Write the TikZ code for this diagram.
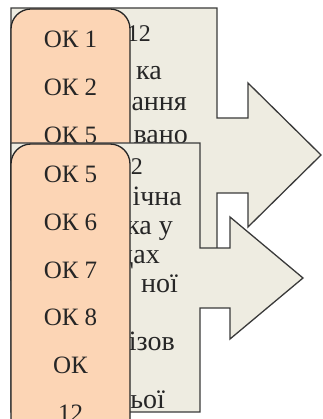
\documentclass[tikz,border=0pt]{standalone}
\usepackage{fontspec}
\setmainfont{Liberation Serif}
\definecolor{arrowfill}{HTML}{EEECE1}
\definecolor{okfill}{HTML}{FCD5B5}
\definecolor{edgegray}{HTML}{3A3A3A}
\begin{document}
\begin{tikzpicture}[x=1pt,y=-1pt,
  callout/.style={draw=edgegray, line width=1.3pt, fill=arrowfill, line join=miter},
  okbox/.style={draw=black!85, line width=1.3pt, fill=okfill, rounded corners=20pt},
  oktext/.style={font=\fontsize{25}{30}\selectfont, text=black!85, anchor=base, inner sep=0pt},
  ttl/.style={font=\fontsize{24}{29}\selectfont, text=black!85, anchor=base east, inner sep=0pt},
  ln/.style={font=\fontsize{28}{29}\selectfont, text=black!85, anchor=base east, inner sep=0pt}]
\useasboundingbox (0,0) rectangle (322,419);
\clip (0,0) rectangle (322,419);
% first callout arrow
\path[callout] (11,8) -- (217,8) -- (217,118) -- (248,118) -- (248,83) -- (321,155)
  -- (248,227) -- (248,193) -- (217,193) -- (217,280) -- (11,280) -- cycle;
\node[ttl] (t1) at (151,42) {12};
\node[ln] (t1a) at (162,80) {ка};
\node[ln] (t1b) at (187,111) {ання};
\node[ln] (t1c) at (188,144) {вано};
\path[okbox] (11,9) rectangle (130,220);
\node[oktext] (ok1) at (70.5,48) {ОК 1};
\node[oktext] (ok2) at (70.5,96) {ОК 2};
\node[oktext] (ok5a) at (70.5,144) {ОК 5};
% second callout arrow
\path[callout] (11,143) -- (200,143) -- (200,248) -- (230,248) -- (230,217) -- (303,278)
  -- (230,339) -- (230,308) -- (200,308) -- (200,412) -- (11,412) -- cycle;
\node[ttl] (t2) at (143,175) {2};
\node[ln] (t2a) at (182,205) {ічна};
\node[ln] (t2b) at (173,234) {ка у};
\node[ln] (t2c) at (160,263) {дах};
\node[ln] (t2d) at (178,292) {ної};
\node[ln] (t2e) at (175,350) {ізов};
\node[ln] (t2f) at (165,408) {ьої};
\path[okbox] (11,144) rectangle (130,470);
\node[oktext] (ok5b) at (70.5,183) {ОК 5};
\node[oktext] (ok6) at (70.5,230.6) {ОК 6};
\node[oktext] (ok7) at (70.5,278.2) {ОК 7};
\node[oktext] (ok8) at (70.5,325.8) {ОК 8};
\node[oktext] (ok12a) at (70.5,373.4) {ОК};
\node[oktext] (ok12b) at (70.5,421) {12};
\end{tikzpicture}
\end{document}
